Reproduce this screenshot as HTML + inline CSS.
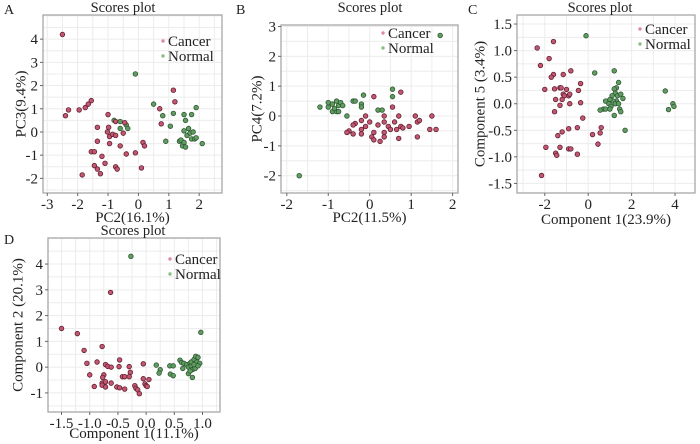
<!DOCTYPE html>
<html><head><meta charset="utf-8">
<style>
body{margin:0;background:#fff;}
svg, svg text{font-family:"Liberation Serif","DejaVu Serif",serif;}
svg{display:block;}
</style></head>
<body>
<svg id="chart" width="700" height="444" viewBox="0 0 700 444" font-family="Liberation Serif, DejaVu Serif, serif"></svg>
<script>
// Panel A
const aCancerX=[-2.5,-2.4,-2.3,-1.95,-1.75,-1.65,-1.55,-1.0,-0.98,-1.02,-0.95,-0.85,-0.75,-0.75,-0.45,-0.5,-1.35,-1.35,-0.95,-0.6,-0.4,-0.1,0.15,0.2,0.1,-1.55,-1.45,-1.2,-1.1,-1.45,-1.35,-1.25,-1.85,-0.75,-0.7,0.7,0.75,1.15,1.2];
const aCancerY=[4.2,0.7,0.95,0.95,1.05,1.2,1.35,0.75,0.2,0,-0.2,-0.1,-0.15,0.45,0.4,-0.05,0.2,-0.4,-0.5,-0.6,-0.95,-0.9,-0.45,-0.6,-1.55,-0.85,-0.85,-1.05,-1.35,-1.45,-1.6,-1.8,-1.85,-1.5,-1.6,1.0,0.35,1.8,1.3];
const aNormalX=[-0.1,0.5,0.8,1.15,1.05,0.9,1.5,1.55,1.75,1.9,1.5,1.65,1.6,1.7,1.8,1.75,1.85,1.9,2.1,1.35,1.4,1.45,1.55,1.5,-0.8,-0.6,-0.4,-0.35,-0.6];
const aNormalY=[2.5,1.2,0.7,0.8,0.25,-0.4,0.75,0.5,0.75,1.05,0.05,0.15,-0.15,-0.05,0,-0.3,-0.3,-0.25,-0.5,-0.4,-0.35,-0.6,-0.65,-0.45,0.5,0.45,0.3,0.15,0.15];
const aXTicks=[-3,-2,-1,0,1,2];
const aYTicks=[-2,-1,0,1,2,3,4];
// Panel B
const bCancerX=[0.1,0.75,0.55,-0.1,-0.2,-0.35,-0.4,-0.5,-0.55,-0.4,-0.2,-0.2,0,0.2,0.35,0.35,0.45,0.5,0.7,0.6,0.75,0.8,0.65,0.35,0.1,0.05,0.1,0.25,0.35,0.7,0.95,1.1,1.15,1.2,1.5,1.45,1.6,1.15,-0.1];
const bCancerY=[0.65,0.8,0.3,0,-0.15,-0.25,-0.3,-0.5,-0.55,-0.6,-0.45,-0.6,-0.2,-0.3,0,-0.2,-0.35,-0.45,0,-0.2,-0.35,-0.4,-0.45,-0.55,-0.55,-0.7,-0.8,-0.85,-0.7,-0.75,-0.35,0,-0.2,-0.15,0,-0.45,-0.45,-0.7,-0.35];
const bNormalX=[-1.7,1.7,-1.2,-1.0,-1.0,-0.9,-0.9,-0.8,-0.8,-0.75,-0.7,-0.65,-0.85,-0.55,-0.4,-0.35,-0.2,-0.2,-0.15,0.2,0.3,0.55,0.55,-0.75];
const bNormalY=[-2.0,2.7,0.3,0.3,0.45,0.4,0.15,0.15,0.5,0.35,0.45,0.35,0.25,0.0,0.5,0.5,0.4,0.3,0.7,0.2,0.2,0.9,0.65,0.15];
const bXTicks=[-2,-1,0,1,2];
const bYTicks=[-2,-1,0,1,2,3];
// Panel C
const cCancerX=[-2.35,-2.2,-1.8,-1.6,-1.6,-1.7,-1.15,-0.8,-2.0,-1.55,-1.3,-1.25,-1.0,-0.9,-0.85,-1.15,-1.1,-1.5,-1.2,-1.3,-0.85,-1.55,-0.45,-0.35,-0.35,-0.25,-0.5,-0.9,-1.2,-1.4,-1.95,-1.3,-0.9,-0.8,-1.5,-1.45,-0.5,0.2,0.45,0.6,0.55,-2.15];
const cCancerY=[1.05,0.72,0.85,1.17,0.55,0.5,0.55,0.62,0.27,0.28,0.3,0.3,0.27,0.15,0.18,0.18,0.15,0.08,0.08,-0.03,0,-0.15,0.25,0.38,0.02,-0.27,-0.45,-0.47,-0.53,-0.6,-0.82,-0.82,-0.85,-0.85,-0.93,-0.97,-0.95,-0.58,-0.76,-0.45,-0.55,-1.35];
const cNormalX=[-0.1,0.3,1.2,1.4,1.3,1.2,1.25,1.1,1.35,1.5,1.6,1.3,1.15,1.0,0.8,0.95,1.05,1.25,1.4,0.7,0.55,0.8,1.0,1.45,1.5,1.2,1.7,3.55,3.7,3.9,3.95];
const cNormalY=[1.28,0.58,0.62,0.4,0.3,0.28,0.2,0.15,0.15,0.18,0.1,0.05,0.05,0.08,0.05,0.0,-0.05,0,0,-0.1,-0.12,-0.1,-0.1,-0.1,-0.15,-0.22,-0.5,0.24,-0.11,0,-0.05];
const cXTicks=[-2,0,2,4];
const cYTicks=[-1.5,-1.0,-0.5,0.0,0.5,1.0,1.5];
// Panel D
const dCancerX=[-1.5,-1.22,-1.1,-1.05,-1.0,-0.87,-0.78,-0.72,-0.68,-0.62,-0.63,-0.47,-0.48,-0.3,-0.28,-0.05,-0.75,-0.77,-0.78,-0.78,-0.72,-0.72,-0.62,-0.52,-0.47,-0.42,-0.38,-0.38,-0.3,-0.2,-0.18,-0.15,-0.12,-0.05,-0.02,0,0.02,0.05,-0.92];
const dCancerY=[1.5,1.3,0.65,0.15,-0.3,0.2,0.8,0.1,0.03,0,2.9,0.28,0.02,0.02,-0.2,0.13,-0.3,-0.4,-0.62,-0.7,-0.57,-0.77,-0.62,-0.77,-0.8,-0.37,-0.37,-0.85,-0.37,-0.72,-0.82,-0.88,-1.03,-0.45,-0.65,-0.72,-0.75,-0.48,-0.75];
const dNormalX=[-0.27,0.97,0.18,0.25,0.23,0.42,0.48,0.43,0.48,0.6,0.63,0.67,0.65,0.72,0.75,0.78,0.8,0.82,0.8,0.85,0.88,0.92,0.9,0.95,0.87,0.82,0.75,0.78,0.85,0.92];
const dNormalY=[4.3,1.35,0.08,-0.1,-0.23,0.05,0.05,-0.27,-0.33,0.27,0.18,0.15,-0.05,0.1,0.0,0.15,0.05,-0.1,0.2,0.3,0.42,0.38,0.2,0.15,-0.05,-0.4,-0.25,-0.15,0.1,0.05];
const dXTicks=[-1.5,-1.0,-0.5,0.0,0.5,1.0];
const dYTicks=[-1,0,1,2,3,4];

const NS="http://www.w3.org/2000/svg";
const svg=document.getElementById('chart');
const FF="Liberation Serif, DejaVu Serif, serif";
function mk(tag,attrs,parent){const e=document.createElementNS(NS,tag);for(const k in attrs)e.setAttribute(k,attrs[k]);if(tag==='text')e.setAttribute('font-family',FF);(parent||svg).appendChild(e);return e;}

const panels=[
 {id:'a',letter:'A',L:43,R:222,T:15,B:193,x0:-3.14,x1:2.75,y0:-2.63,y1:5.04,xt:aXTicks,yt:aYTicks,xd:0,yd:0,cx:aCancerX,cy:aCancerY,nx:aNormalX,ny:aNormalY,xl:'PC2(16.1%)',yl:'PC3(9.4%)',title:[123,12],lx:163,ly:41,xlY:222,ylX:22,lt:[4,14]},
 {id:'b',letter:'B',L:281,R:458,T:25,B:193,x0:-2.14,x1:2.13,y0:-2.58,y1:3.05,xt:bXTicks,yt:bYTicks,xd:0,yd:0,cx:bCancerX,cy:bCancerY,nx:bNormalX,ny:bNormalY,xl:'PC2(11.5%)',yl:'PC4(7.2%)',title:[370,12],lx:383,ly:33,xlY:222,ylX:258,lt:[236,14]},
 {id:'c',letter:'C',L:517,R:695,T:15,B:193,x0:-3.28,x1:4.92,y0:-1.68,y1:1.67,xt:cXTicks,yt:cYTicks,xd:0,yd:1,cx:cCancerX,cy:cCancerY,nx:cNormalX,ny:cNormalY,xl:'Component 1(23.9%)',yl:'Component 5 (3.4%)',title:[600,12],lx:640,ly:29,xlY:224,ylX:481,lt:[468,14]},
 {id:'d',letter:'D',L:48,R:220,T:238,B:412,x0:-1.74,x1:1.31,y0:-1.74,y1:5.01,xt:dXTicks,yt:dYTicks,xd:1,yd:0,cx:dCancerX,cy:dCancerY,nx:dNormalX,ny:dNormalY,xl:'Component 1(11.1%)',yl:'Component 2 (20.1%)',title:[133,235],lx:170,ly:259,xlY:438,ylX:19,lt:[4,244]}
];

panels.forEach(p=>{
 const g=mk('g',{});
 
 
 const sx=v=>p.L+(v-p.x0)/(p.x1-p.x0)*(p.R-p.L);
 const sy=v=>p.B-(v-p.y0)/(p.y1-p.y0)*(p.B-p.T);
 const xs=p.xt[1]-p.xt[0], ys=p.yt[1]-p.yt[0];
 for(let v=p.xt[0]-xs;v<=p.xt[p.xt.length-1]+xs;v+=xs/2){const X=sx(v);if(X>p.L&&X<p.R){const l=mk('line',{x1:X,x2:X,y1:p.T,y2:p.B,stroke:'#ececec','stroke-width':1},g);}}
 for(let v=p.yt[0]-ys;v<=p.yt[p.yt.length-1]+ys;v+=ys/2){const Y=sy(v);if(Y>p.T&&Y<p.B){const l=mk('line',{x1:p.L,x2:p.R,y1:Y,y2:Y,stroke:'#ececec','stroke-width':1},g);}}
 const box=mk('rect',{x:p.L,y:p.T,width:p.R-p.L,height:p.B-p.T,fill:'none',stroke:'#a8a8a8','stroke-width':1.3},g);
 
 p.xt.forEach(v=>{const X=sx(v);mk('line',{x1:X,x2:X,y1:p.B,y2:p.B+3,stroke:'#666'},g);
  const t=mk('text',{x:X,y:p.B+16,'text-anchor':'middle','font-size':15,fill:'#222'},g);t.textContent=p.xd?v.toFixed(1):String(v);
  });
 p.yt.forEach(v=>{const Y=sy(v);mk('line',{x1:p.L-3,x2:p.L,y1:Y,y2:Y,stroke:'#666'},g);
  const t=mk('text',{x:p.L-5,y:Y+5,'text-anchor':'end','font-size':15,fill:'#222'},g);t.textContent=p.yd?v.toFixed(1):String(v);
  });
 const ti=mk('text',{x:p.title[0],y:p.title[1],'text-anchor':'middle','font-size':14.5,fill:'#222'},g);ti.textContent='Scores plot';
 
 const le=mk('text',{x:p.lt[0],y:p.lt[1],'font-size':14,fill:'#222'},g);le.textContent=p.letter;
 
 const xl=mk('text',{x:(p.L+p.R)/2,y:p.xlY,'text-anchor':'middle','font-size':15,fill:'#222'},g);xl.textContent=p.xl;
 
 const yc=(p.T+p.B)/2;
 const yl=mk('text',{x:p.ylX,y:yc,'text-anchor':'middle','font-size':15,fill:'#222',transform:`rotate(-90 ${p.ylX} ${yc})`,'dominant-baseline':'middle'},g);yl.textContent=p.yl;
 
 p.nx.forEach((v,i)=>{const c=mk('circle',{cx:sx(v),cy:sy(p.ny[i]),r:2.3,fill:'#5f9e60',stroke:'#2f5534','stroke-width':0.8},g);
  });
 p.cx.forEach((v,i)=>{const c=mk('circle',{cx:sx(v),cy:sy(p.cy[i]),r:2.3,fill:'#c45671',stroke:'#5e1f30','stroke-width':0.8},g);
  });
 [['Cancer','#e08aa0'],['Normal','#88c088']].forEach((e,i)=>{
  const lg=mk('g',{},g);
  
  
  mk('circle',{cx:p.lx,cy:p.ly+i*15,r:1.7,fill:e[1]},lg);
  const t=mk('text',{x:p.lx+5,y:p.ly+i*15+5,'font-size':15,fill:'#222'},lg);t.textContent=e[0];
 });
});
</script>
</body></html>
